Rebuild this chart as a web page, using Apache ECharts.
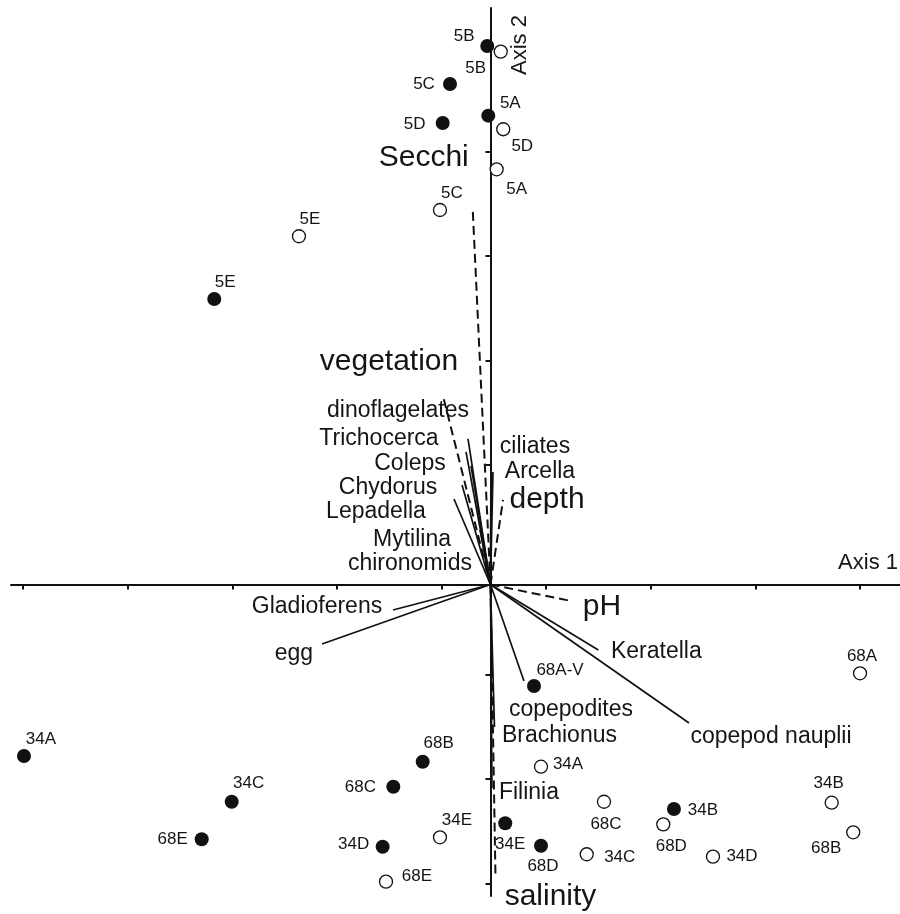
<!DOCTYPE html>
<html>
<head>
<meta charset="utf-8">
<script src="https://cdn.jsdelivr.net/npm/echarts@6/dist/echarts.min.js"></script>
<style>
html,body{margin:0;padding:0;background:#fff;}
#chart{width:900px;height:914px;}
</style>
</head>
<body>
<div id="chart"></div>
<script>
// ---- data (ordination units) ----
const filledNames = ['5B','5C','5D','5A','5E','68A-V','34A','34C','68E','68B','68C','34D','34E','68D','34B'];
const filledX = [-0.031,-0.387,-0.457,-0.021,-2.641,0.416,-4.460,-2.474,-2.761,-0.648,-0.929,-1.031,0.141,0.483,1.754];
const filledY = [5.148,4.785,4.412,4.482,2.729,-0.970,-1.640,-2.077,-2.436,-1.694,-1.933,-2.507,-2.283,-2.497,-2.146];

const openNames = ['5B','5D','5A','5C','5E','68A','34B','68B','34D','68D','34C','68C','34A','34E','68E'];
const openX = [0.098,0.122,0.059,-0.483,-1.831,3.533,3.262,3.468,2.127,1.652,0.920,1.085,0.483,-0.483,-0.999];
const openY = [5.094,4.352,3.969,3.580,3.329,-0.849,-2.086,-2.369,-2.602,-2.293,-2.579,-2.077,-1.742,-2.417,-2.841];

const envNames = ['Secchi','vegetation','depth','pH','salinity'];
const envX = [-0.170,-0.454,0.120,0.770,0.048];
const envY = [3.587,1.802,0.808,-0.158,-2.806];

const speciesNames = ['ciliates','Arcella','dinoflagelates','Trichocerca','Coleps','Chydorus','Lepadella','Mytilina','chironomids','Gladioferens','egg','Keratella','copepod nauplii','copepodites','Brachionus','Filinia'];
const speciesX = [0.005,0.024,-0.215,-0.234,-0.186,-0.272,-0.349,-0.100,-0.053,-0.932,-1.611,1.031,1.898,0.320,0.038,0.014];
const speciesY = [1.401,1.076,1.391,1.267,1.133,0.951,0.817,0.521,0.272,-0.244,-0.569,-0.626,-1.324,-0.923,-1.362,-1.945];

const xTicks = [-4.467,-3.467,-2.467,-1.467,-0.467,0.533,1.533,2.533,3.533];
const yTicks = [4.140,3.140,2.140,1.140,0.140,-0.860,-1.860,-2.860];

// ---- layout (label offsets in px) ----
const filledLabelOff = [[-23,-10],[-26,0],[-28,1],[22,-12],[11,-17],[26,-16],[17,-17],[17,-18],[-29,0],[16,-18],[-33,1],[-29,-2],[5,21],[2,21],[29,1]];
const openLabelOff = [[-25,17],[19,17],[20,20],[12,-17],[11,-17],[2,-17],[-3,-19],[-27,16],[29,0],[8,22],[33,3],[2,23],[27,-2],[17,-17],[31,-5]];
const envLabelOff = [[-49,-52],[-54,-34],[44,0],[31,6],[55,19]];
const speciesLabelOff = [[44,9],[47,0],[-70,-28],[-87,-13],[-61,-2],[-74,3],[-78,13],[-68,10],[-75,8],[-76,-3],[-28,10],[58,2],[82,14],[47,29],[65,9],[37,5]];

const FONT = '"Liberation Sans", Arial, Helvetica, sans-serif';
const INK = '#111';
const TXT = '#151515';

function vectorSeries(names, xs, ys, offs, dashed, fontSize) {
  return {
    type: 'custom',
    silent: true,
    clip: false,
    z: 3,
    data: names.map((n, i) => [xs[i], ys[i]]),
    renderItem: function (params, api) {
      const i = params.dataIndex;
      const p0 = api.coord([0, 0]);
      const p1 = api.coord([api.value(0), api.value(1)]);
      return {
        type: 'group',
        children: [
          { type: 'line', shape: { x1: p0[0], y1: p0[1], x2: p1[0], y2: p1[1] },
            style: { stroke: INK, lineWidth: dashed ? 2 : 1.7, lineDash: dashed ? [9, 5] : null, fill: null } },
          { type: 'text', x: p1[0] + offs[i][0], y: p1[1] + offs[i][1],
            style: { text: names[i], align: 'center', verticalAlign: 'middle',
                     font: fontSize + 'px ' + FONT, fill: TXT } }
        ]
      };
    }
  };
}

function siteData(names, xs, ys, offs) {
  return names.map((n, i) => ({ name: n, value: [xs[i], ys[i]], label: { offset: offs[i] } }));
}

const chart = echarts.init(document.getElementById('chart'), null, { renderer: 'canvas' });
const axisCommon = {
  type: 'value',
  axisLine: { show: true, onZero: true, lineStyle: { color: INK, width: 2 } },
  axisLabel: { show: false },
  splitLine: { show: false },
  axisTick: { show: true, length: 5, lineStyle: { color: INK, width: 2 } }
};
const siteLabel = { show: true, position: 'inside', formatter: '{b}', color: TXT, fontSize: 17, fontFamily: FONT, opacity: 1 };
const option = {
  animation: false,
  backgroundColor: '#fff',
  grid: { left: 11, right: 0, top: 8, bottom: 18, containLabel: false, outerBoundsMode: 'none' },
  xAxis: Object.assign({}, axisCommon, { min: -4.584, max: 3.915,
    axisTick: Object.assign({}, axisCommon.axisTick, { customValues: xTicks }) }),
  yAxis: Object.assign({}, axisCommon, { min: -2.978, max: 5.511,
    axisTick: Object.assign({}, axisCommon.axisTick, { customValues: yTicks }) }),
  graphic: [
    { type: 'text', x: 898, y: 563, silent: true,
      style: { text: 'Axis 1', align: 'right', verticalAlign: 'middle', font: '22px ' + FONT, fill: TXT } },
    { type: 'text', x: 520, y: 45, rotation: Math.PI / 2, silent: true,
      style: { text: 'Axis 2', align: 'center', verticalAlign: 'middle', font: '22px ' + FONT, fill: TXT } }
  ],
  series: [
    vectorSeries(envNames, envX, envY, envLabelOff, true, 30),
    vectorSeries(speciesNames, speciesX, speciesY, speciesLabelOff, false, 23),
    {
      type: 'scatter', z: 5, silent: true,
      symbol: 'circle', symbolSize: 13,
      itemStyle: { color: '#fff', borderColor: INK, borderWidth: 1.3, opacity: 1 },
      label: siteLabel,
      data: siteData(openNames, openX, openY, openLabelOff)
    },
    {
      type: 'scatter', z: 6, silent: true,
      symbol: 'circle', symbolSize: 14,
      itemStyle: { color: INK, opacity: 1 },
      label: siteLabel,
      data: siteData(filledNames, filledX, filledY, filledLabelOff)
    }
  ]
};
chart.setOption(option);
</script>
</body>
</html>
